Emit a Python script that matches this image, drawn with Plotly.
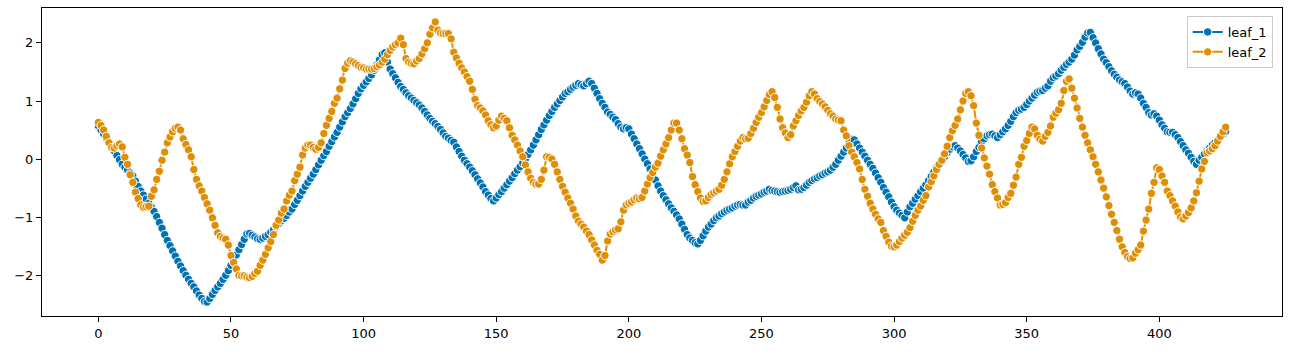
import plotly.graph_objects as go

leaf_1 = [
    0.57, 0.50, 0.43, 0.36, 0.29, 0.21, 0.14, 0.06, -0.01, -0.09,
    -0.14, -0.19, -0.24, -0.29, -0.38, -0.47, -0.55, -0.62, -0.69, -0.76,
    -0.83, -0.90, -0.99, -1.09, -1.19, -1.30, -1.40, -1.49, -1.58, -1.67,
    -1.76, -1.84, -1.92, -2.00, -2.07, -2.14, -2.20, -2.27, -2.34, -2.40,
    -2.45, -2.46, -2.40, -2.33, -2.26, -2.20, -2.14, -2.07, -2.00, -1.92,
    -1.83, -1.74, -1.65, -1.56, -1.47, -1.38, -1.29, -1.28, -1.31, -1.34,
    -1.37, -1.38, -1.36, -1.33, -1.30, -1.26, -1.22, -1.16, -1.11, -1.06,
    -1.02, -0.97, -0.91, -0.86, -0.78, -0.71, -0.63, -0.55, -0.47, -0.40,
    -0.33, -0.26, -0.18, -0.10, -0.02, 0.06, 0.13, 0.22, 0.30, 0.38,
    0.46, 0.55, 0.64, 0.73, 0.80, 0.87, 0.95, 1.04, 1.13, 1.21,
    1.27, 1.33, 1.39, 1.45, 1.53, 1.62, 1.71, 1.80, 1.83, 1.67,
    1.55, 1.47, 1.40, 1.32, 1.25, 1.20, 1.14, 1.09, 1.05, 1.01,
    0.97, 0.93, 0.88, 0.82, 0.76, 0.70, 0.65, 0.61, 0.56, 0.51,
    0.45, 0.39, 0.36, 0.32, 0.29, 0.21, 0.13, 0.05, -0.02, -0.08,
    -0.14, -0.20, -0.27, -0.34, -0.41, -0.48, -0.56, -0.62, -0.68, -0.72,
    -0.67, -0.61, -0.56, -0.50, -0.44, -0.38, -0.32, -0.25, -0.19, -0.13,
    -0.07, 0.00, 0.08, 0.16, 0.24, 0.33, 0.42, 0.51, 0.59, 0.67,
    0.75, 0.82, 0.89, 0.95, 1.01, 1.07, 1.13, 1.16, 1.20, 1.24,
    1.27, 1.30, 1.28, 1.26, 1.30, 1.34, 1.30, 1.22, 1.13, 1.04,
    0.96, 0.89, 0.81, 0.77, 0.72, 0.68, 0.61, 0.55, 0.52, 0.54,
    0.52, 0.43, 0.35, 0.26, 0.18, 0.09, 0.00, -0.08, -0.17, -0.27,
    -0.36, -0.46, -0.55, -0.63, -0.70, -0.77, -0.84, -0.90, -0.96, -1.03,
    -1.12, -1.21, -1.30, -1.36, -1.40, -1.44, -1.46, -1.40, -1.32, -1.24,
    -1.17, -1.12, -1.06, -1.01, -0.98, -0.94, -0.91, -0.88, -0.86, -0.84,
    -0.81, -0.79, -0.78, -0.79, -0.79, -0.74, -0.71, -0.67, -0.64, -0.62,
    -0.60, -0.57, -0.55, -0.52, -0.54, -0.55, -0.56, -0.57, -0.56, -0.55,
    -0.54, -0.52, -0.49, -0.46, -0.53, -0.52, -0.49, -0.45, -0.40, -0.37,
    -0.34, -0.32, -0.29, -0.27, -0.24, -0.22, -0.19, -0.14, -0.09, -0.02,
    0.05, 0.12, 0.19, 0.27, 0.34, 0.33, 0.26, 0.19, 0.12, 0.05,
    -0.02, -0.09, -0.16, -0.24, -0.32, -0.40, -0.49, -0.57, -0.65, -0.74,
    -0.82, -0.88, -0.93, -0.97, -1.01, -0.91, -0.82, -0.76, -0.69, -0.63,
    -0.56, -0.50, -0.44, -0.37, -0.30, -0.22, -0.15, -0.09, -0.03, 0.04,
    0.11, 0.17, 0.21, 0.23, 0.19, 0.14, 0.08, 0.02, -0.04, -0.03,
    0.04, 0.13, 0.20, 0.30, 0.35, 0.40, 0.42, 0.43, 0.40, 0.37,
    0.42, 0.47, 0.52, 0.58, 0.65, 0.73, 0.80, 0.84, 0.86, 0.89,
    0.94, 1.00, 1.05, 1.10, 1.15, 1.17, 1.18, 1.22, 1.26, 1.34,
    1.40, 1.43, 1.47, 1.53, 1.58, 1.63, 1.67, 1.72, 1.79, 1.88,
    1.94, 2.01, 2.10, 2.17, 2.18, 2.09, 2.00, 1.90, 1.81, 1.72,
    1.66, 1.59, 1.52, 1.46, 1.41, 1.36, 1.33, 1.30, 1.24, 1.17,
    1.12, 1.14, 1.12, 1.05, 0.96, 0.89, 0.80, 0.76, 0.78, 0.74,
    0.67, 0.59, 0.53, 0.47, 0.46, 0.46, 0.42, 0.37, 0.30, 0.23,
    0.16, 0.10, 0.03, -0.04, -0.09, -0.02, 0.03, 0.09, 0.14, 0.19,
    0.24, 0.28, 0.33, 0.38, 0.43, 0.48,
]

leaf_2 = [
    0.63, 0.58, 0.50, 0.39, 0.28, 0.20, 0.19, 0.23, 0.26, 0.21,
    0.03, -0.09, -0.27, -0.40, -0.57, -0.68, -0.79, -0.83, -0.82, -0.81,
    -0.64, -0.53, -0.35, -0.21, -0.02, 0.12, 0.28, 0.38, 0.47, 0.53,
    0.55, 0.50, 0.35, 0.25, 0.16, 0.04, -0.18, -0.35, -0.46, -0.55,
    -0.66, -0.77, -0.88, -1.01, -1.14, -1.27, -1.33, -1.36, -1.38, -1.48,
    -1.66, -1.78, -1.89, -2.00, -2.01, -2.01, -2.03, -2.04, -2.02, -1.97,
    -1.93, -1.83, -1.74, -1.64, -1.53, -1.42, -1.30, -1.14, -1.05, -0.93,
    -0.86, -0.72, -0.62, -0.55, -0.37, -0.26, -0.14, 0.07, 0.19, 0.24,
    0.24, 0.20, 0.17, 0.20, 0.28, 0.44, 0.58, 0.70, 0.82, 0.96,
    1.05, 1.21, 1.36, 1.56, 1.65, 1.69, 1.67, 1.64, 1.61, 1.58,
    1.57, 1.55, 1.55, 1.55, 1.56, 1.59, 1.62, 1.67, 1.72, 1.80,
    1.87, 1.93, 1.97, 2.00, 2.08, 1.97, 1.73, 1.67, 1.65, 1.64,
    1.69, 1.73, 1.81, 1.90, 2.00, 2.15, 2.26, 2.36, 2.22, 2.17,
    2.16, 2.16, 2.16, 2.07, 1.84, 1.74, 1.65, 1.57, 1.50, 1.42,
    1.34, 1.20, 1.03, 0.92, 0.88, 0.83, 0.76, 0.66, 0.59, 0.54,
    0.57, 0.67, 0.74, 0.70, 0.66, 0.54, 0.41, 0.33, 0.24, 0.14,
    0.04, -0.10, -0.22, -0.33, -0.40, -0.43, -0.43, -0.35, -0.19, 0.04,
    0.03, 0.00, -0.09, -0.22, -0.35, -0.47, -0.57, -0.67, -0.76, -0.86,
    -0.98, -1.07, -1.12, -1.17, -1.24, -1.30, -1.39, -1.48, -1.57, -1.64,
    -1.74, -1.66, -1.41, -1.29, -1.25, -1.22, -1.20, -1.08, -0.88, -0.79,
    -0.76, -0.74, -0.70, -0.67, -0.68, -0.66, -0.55, -0.43, -0.32, -0.23,
    -0.14, -0.07, 0.05, 0.16, 0.26, 0.37, 0.50, 0.62, 0.62, 0.50,
    0.35, 0.18, 0.07, -0.06, -0.30, -0.44, -0.56, -0.67, -0.73, -0.72,
    -0.66, -0.61, -0.58, -0.55, -0.52, -0.45, -0.35, -0.22, -0.08, 0.04,
    0.13, 0.22, 0.31, 0.37, 0.35, 0.36, 0.44, 0.53, 0.63, 0.72,
    0.80, 0.90, 1.01, 1.11, 1.16, 1.06, 0.89, 0.69, 0.54, 0.45,
    0.37, 0.42, 0.57, 0.66, 0.75, 0.83, 0.89, 0.98, 1.09, 1.16,
    1.12, 1.04, 0.99, 0.95, 0.90, 0.84, 0.78, 0.74, 0.69, 0.67,
    0.66, 0.50, 0.40, 0.23, 0.12, 0.04, -0.06, -0.17, -0.35, -0.52,
    -0.64, -0.76, -0.86, -0.95, -1.03, -1.09, -1.23, -1.33, -1.43, -1.50,
    -1.51, -1.48, -1.42, -1.36, -1.31, -1.26, -1.18, -1.07, -0.97, -0.88,
    -0.81, -0.71, -0.63, -0.48, -0.39, -0.29, -0.18, -0.09, -0.02, 0.09,
    0.22, 0.37, 0.49, 0.58, 0.69, 0.85, 1.00, 1.13, 1.16, 1.09,
    0.92, 0.62, 0.41, 0.19, 0.02, -0.12, -0.26, -0.44, -0.56, -0.67,
    -0.79, -0.78, -0.75, -0.66, -0.59, -0.45, -0.31, -0.09, 0.03, 0.22,
    0.32, 0.44, 0.55, 0.52, 0.41, 0.34, 0.31, 0.39, 0.46, 0.57,
    0.72, 0.79, 0.85, 0.96, 1.18, 1.34, 1.38, 1.22, 1.05, 0.88,
    0.70, 0.55, 0.41, 0.28, 0.16, 0.04, -0.09, -0.22, -0.36, -0.50,
    -0.65, -0.80, -0.95, -1.09, -1.23, -1.38, -1.51, -1.61, -1.68, -1.71,
    -1.70, -1.62, -1.56, -1.48, -1.24, -1.05, -0.86, -0.59, -0.40, -0.15,
    -0.18, -0.29, -0.40, -0.55, -0.63, -0.72, -0.81, -0.91, -1.00, -1.03,
    -0.98, -0.92, -0.84, -0.72, -0.58, -0.38, -0.17, -0.04, 0.11, 0.14,
    0.18, 0.23, 0.31, 0.39, 0.47, 0.55,
]

series_names = ["leaf_1", "leaf_2"]
series_colors = ["#0173b2", "#de8f05"]
x_ticks = [0, 50, 100, 150, 200, 250, 300, 350, 400]
y_ticks = [-2, -1, 0, 1, 2]

x_vals = list(range(len(leaf_1)))

fig = go.Figure()
for name, vals, color in zip(series_names, [leaf_1, leaf_2], series_colors):
    fig.add_trace(go.Scatter(
        x=x_vals, y=vals, mode="lines+markers", name=name, legendgroup=name,
        line=dict(color=color, width=2),
        marker=dict(color=color, size=8.3, line=dict(color="white", width=1)),
    ))

n = len(leaf_1) - 1
pad_x = 0.05 * n
ymin, ymax = min(min(leaf_1), min(leaf_2)), max(max(leaf_1), max(leaf_2))
pad_y = 0.05 * (ymax - ymin)

fig.update_layout(
    width=1290, height=351,
    margin=dict(l=42, r=8, t=8, b=35, autoexpand=False),
    plot_bgcolor="white", paper_bgcolor="white",
    font=dict(family="DejaVu Sans", size=13, color="black"),
    showlegend=True,
    legend=dict(x=0.9925, xanchor="right", y=0.974, yanchor="top",
                bgcolor="rgba(255,255,255,0.8)", bordercolor="#cccccc",
                borderwidth=1, font=dict(size=13), tracegroupgap=0),
)
axis_style = dict(showline=True, linecolor="black", linewidth=1, mirror=True,
                  ticks="outside", ticklen=5, tickwidth=1, tickcolor="black",
                  showgrid=False, zeroline=False, automargin=False)
fig.update_xaxes(range=[-pad_x, n + pad_x], tickvals=x_ticks, **axis_style)
fig.update_yaxes(range=[ymin - pad_y, ymax + pad_y], tickvals=y_ticks, **axis_style)

fig.write_html("out.html",
               config={"displayModeBar": False},
               post_script="document.body.style.margin='0';document.body.style.overflow='hidden';")
